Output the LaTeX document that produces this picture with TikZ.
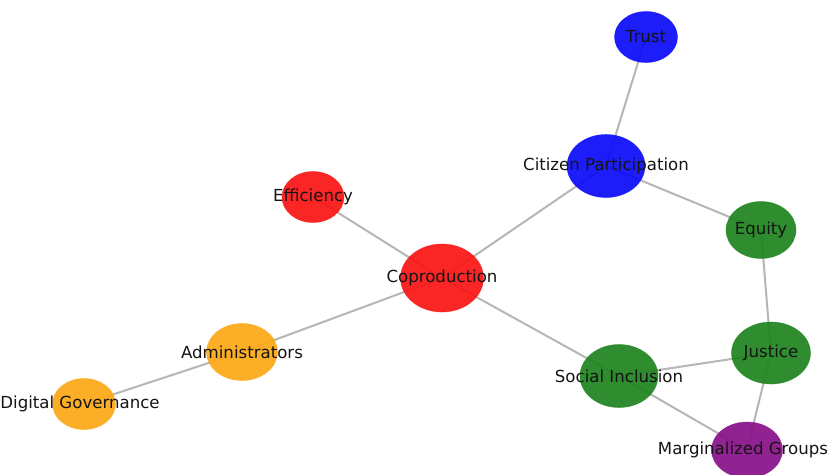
\documentclass[tikz,border=0pt]{standalone}
\usepackage{fontspec}
\setmainfont{DejaVu Sans}
\usetikzlibrary{shapes.geometric}
\pgfdeclarelayer{bg}
\pgfsetlayers{bg,main}
\definecolor{nblue}{RGB}{10,10,250}
\definecolor{nred}{RGB}{250,20,20}
\definecolor{ngreen}{RGB}{30,132,30}
\definecolor{norange}{RGB}{252,168,20}
\definecolor{npurple}{RGB}{136,16,136}
\definecolor{edgegray}{RGB}{182,182,182}
\begin{document}
\begin{tikzpicture}[x=1pt,y=-1pt,
  vert/.style={ellipse, inner sep=0pt, fill opacity=0.92, draw opacity=0.6, line width=0.6pt},
  lab/.style={font=\fontsize{16.6}{18}\selectfont, text=black!92, inner sep=0pt},
  edge/.style={draw=edgegray, line width=2pt}]
\useasboundingbox (0,0) rectangle (830,474);
\clip (0,0) rectangle (830,474);
% nodes
\node[vert, fill=nblue, draw=nblue, minimum width=63pt, minimum height=51pt] (trust) at (646,37) {};
\node[vert, fill=nblue, draw=nblue, minimum width=78pt, minimum height=63pt] (cit) at (606,166) {};
\node[vert, fill=ngreen, draw=ngreen, minimum width=70pt, minimum height=57pt] (equ) at (761,230) {};
\node[vert, fill=nred, draw=nred, minimum width=62pt, minimum height=51pt] (eff) at (313,197) {};
\node[vert, fill=nred, draw=nred, minimum width=83pt, minimum height=68pt] (cop) at (442,278) {};
\node[vert, fill=norange, draw=norange, minimum width=71pt, minimum height=57pt] (adm) at (242,352) {};
\node[vert, fill=norange, draw=norange, minimum width=63pt, minimum height=51pt] (dig) at (84,404) {};
\node[vert, fill=ngreen, draw=ngreen, minimum width=79pt, minimum height=62pt] (jus) at (771,353) {};
\node[vert, fill=ngreen, draw=ngreen, minimum width=78pt, minimum height=63pt] (soc) at (619,376) {};
\node[vert, fill=npurple, draw=npurple, minimum width=71pt, minimum height=56pt] (mar) at (747,450) {};
% edges
\begin{pgfonlayer}{bg}
\fill[white] (0,0) rectangle (830,474);
\draw[edge] (trust.center) -- (cit.center);
\draw[edge] (cit.center) -- (cop.center);
\draw[edge] (cit.center) -- (equ.center);
\draw[edge] (eff.center) -- (cop.center);
\draw[edge] (cop.center) -- (adm.center);
\draw[edge] (cop.center) -- (soc.center);
\draw[edge] (adm.center) -- (dig.center);
\draw[edge] (equ.center) -- (jus.center);
\draw[edge] (jus.center) -- (soc.center);
\draw[edge] (soc.center) -- (mar.center);
\draw[edge] (jus.center) -- (mar.center);
\end{pgfonlayer}
% labels
\node[lab] (trust-l) at (trust.center) {Trust};
\node[lab] (cit-l) at (cit.center) {Citizen Participation};
\node[lab] (equ-l) at (equ.center) {Equity};
\node[lab] (eff-l) at (eff.center) {Efficiency};
\node[lab] (cop-l) at (cop.center) {Coproduction};
\node[lab] (adm-l) at (adm.center) {Administrators};
\node[lab] (dig-l) at ([xshift=-4pt]dig.center) {Digital Governance};
\node[lab] (jus-l) at (jus.center) {Justice};
\node[lab] (soc-l) at (soc.center) {Social Inclusion};
\node[lab] (mar-l) at ([xshift=-4pt]mar.center) {Marginalized Groups};
\end{tikzpicture}
\end{document}
